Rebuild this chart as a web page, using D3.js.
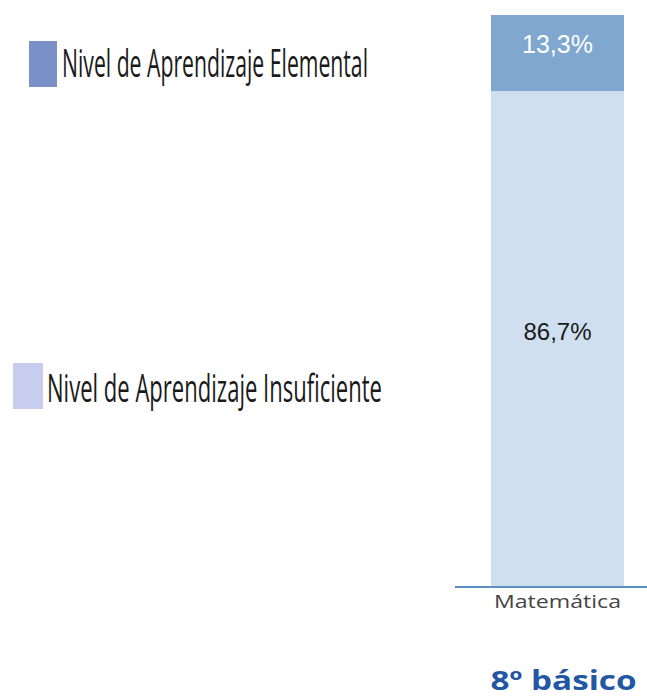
<!DOCTYPE html>
<html><head><meta charset="utf-8">
<script src="https://cdn.jsdelivr.net/npm/d3@7"></script>
<style>html,body{margin:0;padding:0;background:#fff;}svg{display:block;}</style>
</head><body>
<svg id="c" width="647" height="700"></svg>
<script>
const categories = ["Matemática"];
const levels = ["Nivel de Aprendizaje Insuficiente", "Nivel de Aprendizaje Elemental"];
const insuficiente = [86.7];
const elemental = [13.3];
const valueLabels = { insuficiente: ["86,7%"], elemental: ["13,3%"] };
const groupTitle = "8º básico";

const svg = d3.select("#c");
const barColors = ["#cfdff0", "#7fa7d0"];
const legendColors = ["#c7cdec", "#7b8fc8"];

const y = d3.scaleLinear().domain([0, 100]).range([587, 15]);
const x = d3.scaleBand().domain(categories).range([491, 624]).padding(0);

const stackData = categories.map((c, i) => ({ cat: c, ins: insuficiente[i], ele: elemental[i] }));
const series = d3.stack().keys(["ins", "ele"])(stackData);

svg.append("g").selectAll("g").data(series).join("g")
  .attr("fill", (d, i) => barColors[i])
  .selectAll("rect").data(d => d).join("rect")
  .attr("x", d => x(d.data.cat))
  .attr("width", x.bandwidth())
  .attr("y", d => y(d[1]))
  .attr("height", d => y(d[0]) - y(d[1]));

const font = "'Liberation Sans', Arial, sans-serif";
categories.forEach((c, i) => {
  const cx = x(c) + x.bandwidth() / 2;
  svg.append("text").attr("x", cx).attr("y", 53).attr("text-anchor", "middle")
    .attr("font-family", font).attr("font-size", 25).attr("fill", "#ffffff")
    .text(valueLabels.elemental[i]);
  svg.append("text").attr("x", cx).attr("y", 340).attr("text-anchor", "middle")
    .attr("font-family", font).attr("font-size", 24).attr("fill", "#1a1a1a")
    .text(valueLabels.insuficiente[i]);
  svg.append("text").attr("x", cx).attr("y", 608).attr("text-anchor", "middle")
    .attr("font-family", "'Open Sans', sans-serif").attr("font-size", 19).attr("fill", "#454545")
    .attr("textLength", 127).attr("lengthAdjust", "spacingAndGlyphs")
    .text(c);
  svg.append("text").attr("x", cx + 6).attr("y", 690).attr("text-anchor", "middle")
    .attr("font-family", "'Open Sans', sans-serif").attr("font-weight", "bold").attr("font-size", 26)
    .attr("fill", "#2356a3")
    .attr("textLength", 146).attr("lengthAdjust", "spacingAndGlyphs")
    .text(groupTitle);
});

svg.append("line").attr("x1", 455).attr("x2", 647).attr("y1", y(0)).attr("y2", y(0))
  .attr("stroke", "#5d8fc3").attr("stroke-width", 2);

const legendItems = [
  { label: levels[1], color: legendColors[1], sx: 29, sy: 41, sw: 28, sh: 46, tx: 62, ty: 77, tl: 306 },
  { label: levels[0], color: legendColors[0], sx: 13, sy: 363, sw: 30, sh: 46, tx: 47, ty: 402, tl: 335 }
];
const lg = svg.append("g");
legendItems.forEach(d => {
  lg.append("rect").attr("x", d.sx).attr("y", d.sy).attr("width", d.sw).attr("height", d.sh).attr("fill", d.color);
  lg.append("text").attr("x", d.tx).attr("y", d.ty)
    .attr("font-family", "'Open Sans', sans-serif").attr("font-size", 39).attr("fill", "#1a1a1a")
    .attr("textLength", d.tl).attr("lengthAdjust", "spacingAndGlyphs")
    .text(d.label);
});
</script>
</body></html>
